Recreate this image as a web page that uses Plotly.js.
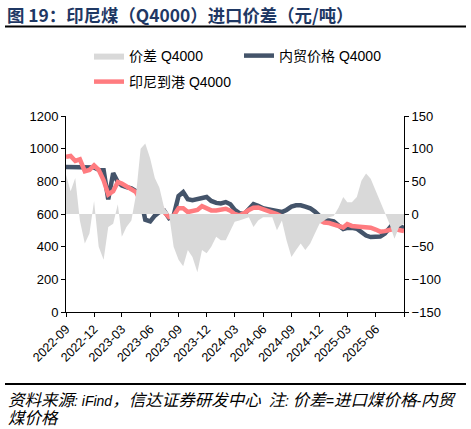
<!DOCTYPE html>
<html>
<head>
<meta charset="utf-8">
<script src="https://cdn.plot.ly/plotly-3.0.1.min.js"></script>
<style>html,body{margin:0;padding:0;background:#fff;}#chart{width:471px;height:429px;}</style>
</head>
<body>
<div id="chart"></div>
<script>
var dates = [
'2022-09-01','2022-09-16','2022-10-01','2022-10-16','2022-11-01','2022-11-16','2022-12-01','2022-12-16',
'2023-01-01','2023-01-16','2023-02-01','2023-02-16','2023-03-01','2023-03-16','2023-04-01','2023-04-16',
'2023-05-01','2023-05-16','2023-06-01','2023-06-16','2023-07-01','2023-07-16','2023-08-01','2023-08-16',
'2023-09-01','2023-09-16','2023-10-01','2023-10-16','2023-11-01','2023-11-16','2023-12-01','2023-12-16',
'2024-01-01','2024-01-16','2024-02-01','2024-02-16','2024-03-01','2024-03-16','2024-04-01','2024-04-16',
'2024-05-01','2024-05-16','2024-06-01','2024-06-16','2024-07-01','2024-07-16','2024-08-01','2024-08-16',
'2024-09-01','2024-09-16','2024-10-01','2024-10-16','2024-11-01','2024-11-16','2024-12-01','2024-12-16',
'2025-01-01','2025-01-16','2025-02-01','2025-02-16','2025-03-01','2025-03-16','2025-04-01','2025-04-16',
'2025-05-01','2025-05-16','2025-06-01','2025-06-16','2025-07-01','2025-07-16','2025-08-01','2025-08-16',
'2025-09-01'];

// 价差 Q4000 (right axis, 元/吨)
var spread = [
 60, 35, 55,-10,-45,-30, 20,-50,
-70,-20,-15, 15,-35,-20,-10, 30,
100,108, 85, 55, 40, 10,  0,-50,
-70,-80,-55,-66,-89,-55,-60,-50,
-35,-40,-40,-25,-12,-10, -8, -5,
-20,-10, -5, -5, -5,-25,-10,-40,
-66,-55,-45,-55,-45,-30,-15,-10,
 -5, -3, 10, 26, 18, 18, 26, 51,
 62, 54, 36, 21,  3,-15,-38,-20,
-15];

// 内贸价格 Q4000 (left axis)
var domestic = [
887,887,885,885,882,882,885,870,
868,690,850,796,775,765,757,740,
700,565,555,590,612,620,575,590,
710,734,690,684,690,700,704,680,
668,665,673,660,625,605,600,630,
660,650,635,630,622,615,612,625,
645,653,653,645,635,615,585,561,
560,555,530,508,515,516,510,490,
468,459,459,462,480,510,551,525,
515];

// 印尼到港 Q4000 (left axis)
var indonesia = [
950,955,925,935,862,870,898,870,
806,720,740,796,786,770,750,734,
680,643,645,645,660,612,582,590,
635,635,612,618,625,648,635,622,
622,628,632,620,600,592,605,625,
638,640,630,620,612,600,585,580,
578,578,578,578,576,572,562,548,
545,538,525,518,538,527,524,522,
520,516,505,492,495,504,510,502,
496];

var tickDates = ['2022-09-01','2022-12-01','2023-03-01','2023-06-01','2023-09-01','2023-12-01',
  '2024-03-01','2024-06-01','2024-09-01','2024-12-01','2025-03-01','2025-06-01','2025-09-01'];
var tickLabels = ['2022-09','2022-12','2023-03','2023-06','2023-09','2023-12',
  '2024-03','2024-06','2024-09','2024-12','2025-03','2025-06',''];

var seriesNames = ['价差 Q4000','内贸价格 Q4000','印尼到港 Q4000'];
var titleText = '图 19：印尼煤（Q4000）进口价差（元/吨）';
var LAT = '<span style="font-size:14px">';
var sourceLine1 = '资料来源' + LAT + ': iFind</span>，信达证券研发中心' + LAT + '  </span>注' + LAT + ': </span>价差' + LAT + '=</span>进口煤价格' + LAT + '-</span>内贸';
var sourceLine2 = '煤价格';

var FONT = '"Liberation Sans", Arial, "Noto Sans CJK SC", sans-serif';

var traces = [
  {x: dates, y: spread, name: seriesNames[0], type: 'scatter', mode: 'lines',
   yaxis: 'y2', fill: 'tozeroy', fillcolor: '#d9d9d9', line: {width: 0, color: '#d9d9d9'},
   legend: 'legend'},
  {x: dates, y: domestic, name: seriesNames[1], type: 'scatter', mode: 'lines',
   line: {color: '#44546a', width: 4.5}, legend: 'legend3'},
  {x: dates, y: indonesia, name: seriesNames[2], type: 'scatter', mode: 'lines',
   line: {color: '#ff7c80', width: 4.5}, legend: 'legend2'}
];

var pw = 338, ph = 196, L = 66, T = 116;
function px2x(p){ return (p - L) / pw; }
function py2y(p){ return (T + ph - p) / ph; }

var footFont = {family: '"Liberation Sans", "Noto Sans CJK SC", sans-serif', size: 16.5, style: 'italic', color: '#000'};
function legendAt(xp, yp){
  return {orientation: 'h', xref: 'container', yref: 'container', x: xp/471, y: 1 - yp/429,
          xanchor: 'left', yanchor: 'middle', font: {size: 14}, bgcolor: 'rgba(0,0,0,0)'};
}

var layout = {
  width: 471, height: 429,
  margin: {l: 66, r: 67, t: 116, b: 117, pad: 0},
  paper_bgcolor: '#ffffff', plot_bgcolor: '#ffffff',
  font: {family: FONT, size: 13, color: '#000000'},
  showlegend: true,
  title: {text: titleText, xref: 'container', x: 7/471, xanchor: 'left',
          yref: 'container', y: 1 - 16/429, yanchor: 'middle',
          font: {family: '"Noto Sans CJK SC", sans-serif', size: 17.4, color: '#1f3864', weight: 'bold'}},
  xaxis: {type: 'date', range: ['2022-09-01', '2025-09-01'], tickvals: tickDates, ticktext: tickLabels,
          tickangle: -45, ticks: 'outside', ticklen: 4, tickcolor: '#000', tickwidth: 1,
          showline: true, linecolor: '#000', linewidth: 1, showgrid: false, zeroline: false,
          tickfont: {size: 12.5}},
  yaxis: {range: [0, 1200], tick0: 0, dtick: 200, ticks: 'outside', ticklen: 4, tickcolor: '#000',
          showline: true, linecolor: '#000', linewidth: 1, showgrid: false, zeroline: false},
  yaxis2: {overlaying: 'y', side: 'right', range: [-150, 150], tick0: 0, dtick: 50, ticks: 'outside',
           ticklen: 4, tickcolor: '#000', showline: true, linecolor: '#000', linewidth: 1,
           showgrid: false, zeroline: false},
  legend: legendAt(89, 56),
  legend3: legendAt(239, 56),
  legend2: legendAt(89, 82),
  shapes: [
    {type: 'line', xref: 'paper', yref: 'paper', x0: px2x(5), x1: px2x(466), y0: py2y(26.5), y1: py2y(26.5),
     line: {color: '#000', width: 2}},
    {type: 'line', xref: 'paper', yref: 'paper', x0: px2x(5), x1: px2x(466), y0: py2y(384), y1: py2y(384),
     line: {color: '#000', width: 2}}
  ],
  annotations: [
    {text: sourceLine1, xref: 'paper', yref: 'paper', x: px2x(6), y: py2y(400), xanchor: 'left', yanchor: 'middle',
     align: 'left', showarrow: false, font: footFont},
    {text: sourceLine2, xref: 'paper', yref: 'paper', x: px2x(6), y: py2y(418), xanchor: 'left', yanchor: 'middle',
     align: 'left', showarrow: false, font: footFont}
  ]
};

Plotly.newPlot('chart', traces, layout, {displayModeBar: false, staticPlot: true});
</script>
</body>
</html>
